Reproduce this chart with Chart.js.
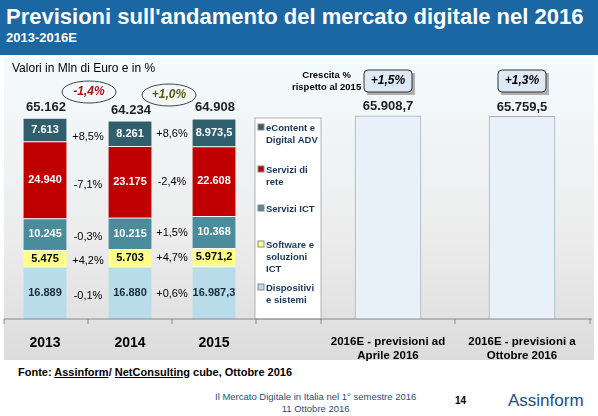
<!DOCTYPE html>
<html><head><meta charset="utf-8">
<script src="https://cdn.jsdelivr.net/npm/chart.js@4"></script>
<style>
body{margin:0;width:598px;height:416px;overflow:hidden;font-family:"Liberation Sans",Arial,sans-serif;background:#fff;position:relative}
#head{position:absolute;left:0;top:0;width:598px;height:55px;background:#1a67a3;color:#fff}
#head .t{position:absolute;left:6px;top:4px;font-size:22px;font-weight:bold;white-space:nowrap}
#head .s{position:absolute;left:6px;top:30px;font-size:13px;font-weight:bold}
#panel{position:absolute;left:4px;top:58px;width:590px;height:302px;background:linear-gradient(#f4fbfd,#ececec 60%,#dcdcdc)}
canvas{position:absolute;left:0;top:0}
.tx{position:absolute;white-space:nowrap}
</style></head><body>
<div id="head"><div class="t">Previsioni sull'andamento del mercato digitale nel 2016</div><div class="s">2013-2016E</div></div>
<div id="panel"></div>
<canvas id="c" width="598" height="362"></canvas>
<div class="tx" style="left:12px;top:61px;font-size:12px">Valori in Mln di Euro e in %</div>
<div class="tx" style="left:292px;top:69px;font-size:9.5px;font-weight:bold;text-align:center;line-height:12px">Crescita %<br>rispetto al 2015</div>
<div class="tx" style="left:18px;top:366px;font-size:11px;font-weight:bold">Fonte: <u>Assinform</u>/ <u>NetConsulting</u> cube, Ottobre 2016</div>
<div class="tx" style="left:215px;top:391px;font-size:9.5px;color:#1a4f8a;text-align:center;line-height:12px">Il Mercato Digitale in Italia nel 1° semestre 2016<br>11 Ottobre 2016</div>
<div class="tx" style="left:455px;top:395px;font-size:10px;font-weight:bold">14</div>
<div class="tx" style="left:508px;top:391px;font-size:17px;color:#1a4f8a">Assinform</div>
<script>
const years = ['2013', '2014', '2015'];
const seriesNames = ['eContent e Digital ADV', 'Servizi di rete', 'Servizi ICT', 'Software e soluzioni ICT', 'Dispositivi e sistemi'];
const dispositivi = [16889, 16880, 16987.3];
const software = [5475, 5703, 5971.2];
const serviziICT = [10245, 10215, 10368];
const serviziRete = [24940, 23175, 22608];
const eContent = [7613, 8261, 8973.5];
const totals = [65162, 64234, 64908];
const growth14 = ['+8,5%', '-7,1%', '-0,3%', '+4,2%', '-0,1%'];
const growth15 = ['+8,6%', '-2,4%', '+1,5%', '+4,7%', '+0,6%'];
const yearGrowth = ['-1,4%', '+1,0%'];
const forecastLabels = [['2016E - previsioni ad', 'Aprile 2016'], ['2016E - previsioni a', 'Ottobre 2016']];
const forecastTotals = [65908.7, 65759.5];
const forecastGrowth = ['+1,5%', '+1,3%'];

const xPos = [45, 130, 214];
const xFc = [388, 522];
const legendX = 288;
const colors = ['#2f5f6c', '#c00000', '#4a8c9c', '#ffff88', '#b9dcea'];
const textColors = ['#fff', '#fff', '#fff', '#000', '#1c2c3c'];

function fmt(v) {
  let s = v.toFixed(v % 1 ? 1 : 0).split('.');
  let i = s[0].replace(/\B(?=(\d{3})+(?!\d))/g, '.');
  return s[1] ? i + ',' + s[1] : i;
}

const stackData = [dispositivi, software, serviziICT, serviziRete, eContent];
const stackIdx = [4, 3, 2, 1, 0];
const datasets = stackData.map((arr, k) => ({
  label: seriesNames[stackIdx[k]],
  data: arr.map((v, i) => ({x: xPos[i], y: v})),
  backgroundColor: colors[stackIdx[k]],
  borderColor: '#ffffff', borderWidth: {top: 1},
  barThickness: 43, stack: 's'
}));
datasets.push({
  label: 'forecast',
  data: forecastTotals.map((v, i) => ({x: xFc[i], y: v})),
  backgroundColor: '#e8f1fa', borderColor: '#a3b3be', borderWidth: 1,
  barThickness: 66, stack: 's'
});

const tickPos = xPos.concat(xFc);
const tickLbl = years.concat(forecastLabels);

const deco = {
  id: 'deco',
  afterDatasetsDraw(chart) {
    const c = chart.ctx, y = chart.scales.y, x = chart.scales.x;
    const ca = chart.chartArea;
    c.save();
    c.textAlign = 'center'; c.textBaseline = 'middle';
    for (let k = 0; k < 5; k++) {
      const meta = chart.getDatasetMeta(k);
      meta.data.forEach((el, i) => {
        c.fillStyle = textColors[stackIdx[k]];
        c.font = 'bold 11px "Liberation Sans"';
        c.fillText(fmt(stackData[k][i]), el.x, (el.y + el.base) / 2);
      });
      const e14 = meta.data[1], e15 = meta.data[2];
      c.fillStyle = '#000'; c.font = '11px "Liberation Sans"';
      c.fillText(growth14[stackIdx[k]], 88, (e14.y + e14.base) / 2 + 3);
      c.fillText(growth15[stackIdx[k]], 172, (e15.y + e15.base) / 2 + 1);
    }
    c.font = 'bold 13px "Liberation Sans"'; c.fillStyle = '#222';
    totals.forEach((t, i) => c.fillText(fmt(t), x.getPixelForValue(xPos[i]) + 1, y.getPixelForValue(t) - 11));
    forecastTotals.forEach((t, i) => c.fillText(fmt(t), x.getPixelForValue(xFc[i]), y.getPixelForValue(t) - 9));
    const ov = [[89, 92, '#b01010'], [169, 95, '#5a5a10']];
    ov.forEach((o, i) => {
      c.beginPath(); c.ellipse(o[0], o[1], 27, 11, 0, 0, Math.PI * 2);
      c.strokeStyle = '#444'; c.lineWidth = 1; c.stroke();
      c.fillStyle = o[2]; c.font = 'italic bold 12px "Liberation Sans"';
      c.fillText(yearGrowth[i], o[0], o[1]);
    });
    forecastGrowth.forEach((g, i) => {
      const bx = x.getPixelForValue(xFc[i]);
      c.fillStyle = '#b0b0b0'; c.fillRect(bx - 21, 73, 48, 22);
      c.fillStyle = '#dde9f4'; c.strokeStyle = '#333';
      c.beginPath(); c.roundRect(bx - 24, 70, 48, 22, 4); c.fill(); c.stroke();
      c.fillStyle = '#000'; c.font = 'italic bold 12px "Liberation Sans"';
      c.fillText(g, bx, 81);
    });
    c.fillStyle = '#ffffff'; c.strokeStyle = '#aab4b8'; c.lineWidth = 1;
    c.fillRect(255, 118, 66, ca.bottom - 118);
    c.strokeRect(255, 118, 66, ca.bottom - 118);
    const legRows = [[128, ['eContent e', 'Digital ADV']], [170, ['Servizi di', 'rete']], [209, ['Servizi ICT']], [245, ['Software e', 'soluzioni', 'ICT']], [288, ['Dispositivi', 'e sistemi']]];
    c.textAlign = 'left'; c.font = 'bold 9.5px "Liberation Sans"';
    legRows.forEach((r, i) => {
      c.fillStyle = colors[i]; c.fillRect(legendX - 30, r[0] - 4, 6, 6);
      c.strokeStyle = '#888'; c.strokeRect(legendX - 30, r[0] - 4, 6, 6);
      c.fillStyle = '#16365c';
      r[1].forEach((s, j) => c.fillText(s, legendX - 22, r[0] + j * 12));
    });
    c.strokeStyle = '#888';
    c.beginPath(); c.moveTo(4, ca.bottom); c.lineTo(592, ca.bottom);
    [4, 88, 172, 256, 321, 455, 590].forEach(px => { c.moveTo(px, ca.bottom); c.lineTo(px, ca.bottom + 5); });
    c.stroke();
    c.restore();
  }
};

new Chart(document.getElementById('c'), {
  type: 'bar',
  data: {datasets: datasets},
  options: {
    responsive: false, animation: false,
    layout: {padding: {left: 20, right: 8, top: 60, bottom: 0}},
    plugins: {legend: {display: false}, tooltip: {enabled: false}},
    scales: {
      x: {
        type: 'linear', min: 20, max: 590, offset: false,
        grid: {display: false}, border: {display: false},
        afterBuildTicks: s => { s.ticks = tickPos.map(v => ({value: v})); },
        afterFit: s => { s.height = 43; s.paddingLeft = 0; s.paddingRight = 0; },
        ticks: {
          autoSkip: false, maxRotation: 0, color: '#000', padding: 8,
          font: ctx => ({family: 'Liberation Sans', weight: 'bold', size: ctx.index < 3 ? 14 : 11.5}),
          callback: (v, i) => tickLbl[i]
        }
      },
      y: {display: false, stacked: true, min: 0, max: 84000}
    }
  },
  plugins: [deco]
});
</script>
</body></html>
